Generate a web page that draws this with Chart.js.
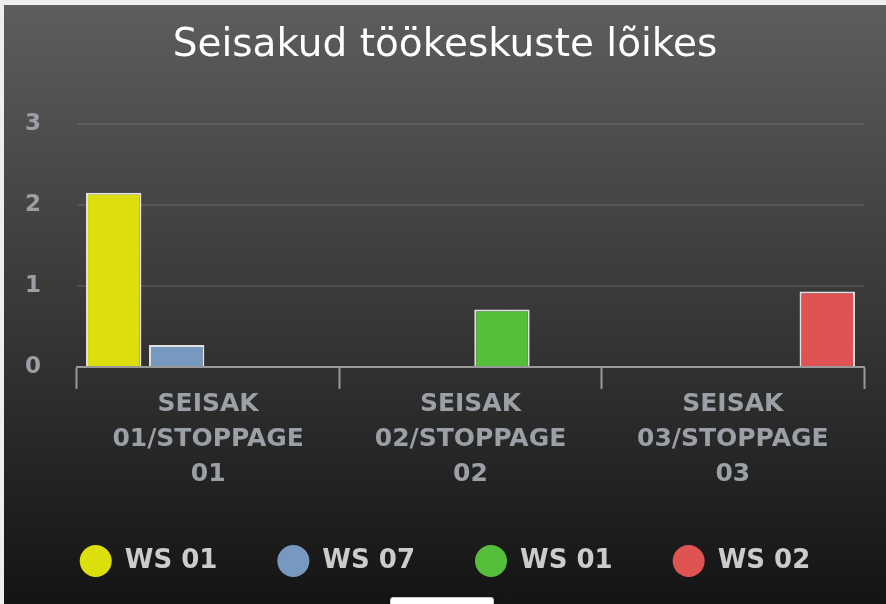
<!DOCTYPE html>
<html>
<head>
<meta charset="utf-8">
<script src="https://cdn.jsdelivr.net/npm/chart.js@4"></script>
<style>
  html, body { margin: 0; padding: 0; width: 886px; height: 604px; overflow: hidden; background: #eeeeee; }
  #panel {
    position: absolute; left: 4px; top: 5px; width: 882px; height: 599px; overflow: hidden;
    background: linear-gradient(to bottom, rgb(93,93,93), rgb(20,20,20));
  }
  #wrap { position: relative; width: 882px; height: 579px; }
  #tab {
    position: absolute; left: 390px; top: 597px; width: 104px; height: 12px;
    background: #fff; border: 1px solid #ccc; border-radius: 3px 3px 0 0; box-sizing: border-box;
  }
</style>
</head>
<body>
<div id="panel"><div id="wrap"><canvas id="myChart"></canvas></div></div>
<div id="tab"></div>
<script>
// categories (multi-line tick labels)
const categories = [
  ['SEISAK', '01/STOPPAGE', '01'],
  ['SEISAK', '02/STOPPAGE', '02'],
  ['SEISAK', '03/STOPPAGE', '03']
];
const seriesNames = ['WS 01', 'WS 07', 'WS 01', 'WS 02'];
const seriesColors = ['#DDDF0D', '#7798BF', '#55BF3B', '#DF5353'];
const ws01a = [2.15, null, null];
const ws07 = [0.27, null, null];
const ws01b = [null, 0.71, null];
const ws02 = [null, null, 0.93];
const yTicks = [0, 1, 2, 3];

const FONT = '"DejaVu Sans", sans-serif';
const seriesValues = [ws01a, ws07, ws01b, ws02];

const datasets = seriesValues.map((vals, i) => ({
  label: seriesNames[i],
  data: vals,
  backgroundColor: seriesColors[i],
  borderColor: 'rgba(255,255,255,0.85)',
  borderWidth: 2,
  barPercentage: 0.88,
  categoryPercentage: 0.96
}));

const ctx = document.getElementById('myChart').getContext('2d');
const myChart = new Chart(ctx, {
  type: 'bar',
  data: { labels: categories, datasets: datasets },
  options: {
    responsive: true,
    maintainAspectRatio: false,
    animation: false,
    layout: { padding: 0 },
    plugins: {
      title: {
        display: true,
        text: 'Seisakud töökeskuste lõikes',
        color: '#ffffff',
        font: { family: FONT, size: 39, weight: 'normal' },
        padding: { top: 17, bottom: 55 }
      },
      legend: {
        position: 'bottom',
        labels: {
          color: '#cccccc',
          font: { family: FONT, size: 26, weight: 'bold' },
          usePointStyle: true,
          pointStyle: 'circle',
          pointStyleWidth: 32,
          boxHeight: 22.6,
          padding: 60,
          generateLabels: (chart) => {
            const items = Chart.defaults.plugins.legend.labels.generateLabels(chart);
            items.forEach(it => { it.lineWidth = 0; it.strokeStyle = 'rgba(0,0,0,0)'; });
            return items;
          }
        }
      },
      tooltip: { enabled: false }
    },
    scales: {
      x: {
        afterFit: (scale) => { scale.height = 121; },
        grid: {
          offset: true,
          drawOnChartArea: false,
          drawTicks: true,
          tickLength: 22,
          tickColor: '#999999',
          tickWidth: 2
        },
        border: { display: true, color: '#999999', width: 2 },
        ticks: {
          color: '#9ba0a6',
          font: { family: FONT, size: 25, weight: 'bold', lineHeight: 1.4 },
          padding: -2,
          maxRotation: 0,
          autoSkip: false
        }
      },
      y: {
        min: yTicks[0],
        max: yTicks[yTicks.length - 1],
        afterBuildTicks: (scale) => { scale.ticks = yTicks.map(v => ({ value: v })); },
        afterFit: (scale) => { scale.width = 73; },
        grid: {
          color: 'rgba(255,255,255,0.1)',
          lineWidth: 2,
          drawTicks: false
        },
        border: { display: false },
        ticks: {
          color: '#9ba0a6',
          font: { family: FONT, size: 23, weight: 'bold' },
          padding: 36
        }
      },
      yRight: {
        position: 'right',
        display: true,
        afterFit: (scale) => { scale.width = 22; },
        grid: { display: false },
        border: { display: false },
        ticks: { display: false }
      }
    }
  }
});
</script>
</body>
</html>
